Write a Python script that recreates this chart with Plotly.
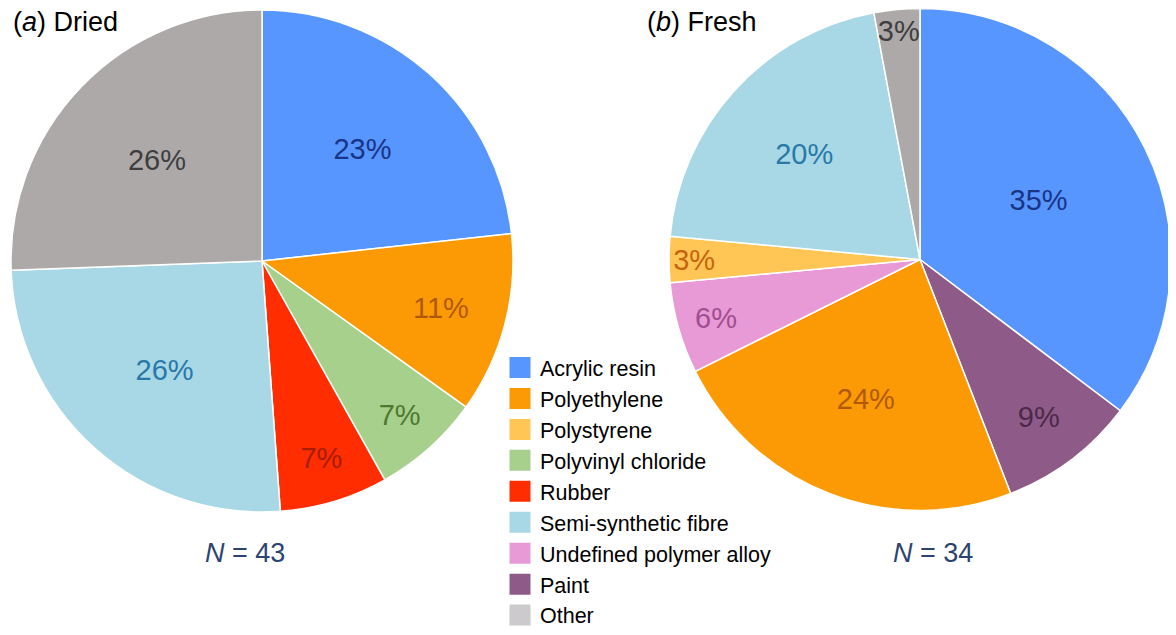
import plotly.graph_objects as go

# ---- data ----
categories = ["Acrylic resin", "Polyethylene", "Polystyrene", "Polyvinyl chloride",
              "Rubber", "Semi-synthetic fibre", "Undefined polymer alloy", "Paint", "Other"]
slice_colors = {"Acrylic resin": "#5796FF", "Polyethylene": "#FC9A05", "Polystyrene": "#FFC655",
                "Polyvinyl chloride": "#A8D08D", "Rubber": "#FF2D00", "Semi-synthetic fibre": "#A8D8E5",
                "Undefined polymer alloy": "#E89AD6", "Paint": "#8E5B89", "Other": "#AEA9A9"}
legend_colors = dict(slice_colors, Other="#CCCACC")
label_colors = {"Acrylic resin": "#1A3486", "Polyethylene": "#B05A08", "Polystyrene": "#C9640E",
                "Polyvinyl chloride": "#4E7A30", "Rubber": "#A81C05", "Semi-synthetic fibre": "#2878A8",
                "Undefined polymer alloy": "#A04E90", "Paint": "#4A2A48", "Other": "#3E3E3E"}

dried_labels = ["Acrylic resin", "Polyethylene", "Polyvinyl chloride", "Rubber", "Semi-synthetic fibre", "Other"]
dried_counts = [10, 5, 3, 3, 11, 11]
dried_text = ["23%", "11%", "7%", "7%", "26%", "26%"]
dried_n = 43

fresh_labels = ["Acrylic resin", "Paint", "Polyethylene", "Undefined polymer alloy",
                "Polystyrene", "Semi-synthetic fibre", "Other"]
fresh_counts = [12, 3, 8, 2, 1, 7, 1]
fresh_text = ["35%", "9%", "24%", "6%", "3%", "20%", "3%"]
fresh_n = 34

FONT = "Liberation Sans, Arial, sans-serif"
OFF = 8                      # page body margin
FW, FH = 1176 - OFF, 635 - OFF

def px(sx):
    return (sx - OFF) / FW

def py(sy):
    return 1 - (sy - OFF) / FH

fig = go.Figure()

def add_pie(labels, counts, text, domain):
    fig.add_trace(go.Pie(
        labels=labels, values=counts, text=text, textinfo="text",
        textposition="inside", insidetextorientation="horizontal",
        sort=False, direction="clockwise", rotation=0,
        marker=dict(colors=[slice_colors[l] for l in labels], line=dict(color="white", width=1.5)),
        textfont=dict(family=FONT, size=29, color=[label_colors[l] for l in labels]),
        domain=domain, showlegend=False, hoverinfo="label+value"))

add_pie(dried_labels, dried_counts, dried_text,
        dict(x=[px(11), px(513)], y=[py(512), py(10)]))
add_pie(fresh_labels, fresh_counts, fresh_text,
        dict(x=[px(669), px(1171)], y=[py(511), py(8)]))

# legend entries in reference order
for c in categories:
    fig.add_trace(go.Scatter(
        x=[None], y=[None], mode="markers", name=c, legendgroup=c,
        marker=dict(symbol="square", size=22, color=legend_colors[c],
                    line=dict(color=legend_colors[c], width=5)),
        showlegend=True))

fig.update_layout(
    width=FW, height=FH, margin=dict(l=0, r=0, t=0, b=0, autoexpand=False),
    paper_bgcolor="white", plot_bgcolor="white",
    font=dict(family=FONT, color="black"),
    uniformtext=dict(minsize=29, mode="show"),
    xaxis=dict(visible=False), yaxis=dict(visible=False),
    legend=dict(x=px(500), y=py(347), xanchor="left", yanchor="top",
                font=dict(size=21.5, family=FONT, color="black"),
                itemsizing="trace", tracegroupgap=0, bgcolor="rgba(0,0,0,0)",
                itemwidth=30),
    annotations=[
        dict(text="(<i>a</i>) Dried", x=px(11), y=py(22), xref="paper", yref="paper",
             xanchor="left", yanchor="middle", showarrow=False, font=dict(size=27, family=FONT)),
        dict(text="(<i>b</i>) Fresh", x=px(645), y=py(22), xref="paper", yref="paper",
             xanchor="left", yanchor="middle", showarrow=False, font=dict(size=27, family=FONT)),
        dict(text=f"<i>N</i> = {dried_n}", x=px(245), y=py(553), xref="paper", yref="paper",
             xanchor="center", yanchor="middle", showarrow=False,
             font=dict(size=27, family=FONT, color="#2B4470")),
        dict(text=f"<i>N</i> = {fresh_n}", x=px(933), y=py(553), xref="paper", yref="paper",
             xanchor="center", yanchor="middle", showarrow=False,
             font=dict(size=27, family=FONT, color="#2B4470")),
    ],
)

fig.write_html("out.html")
